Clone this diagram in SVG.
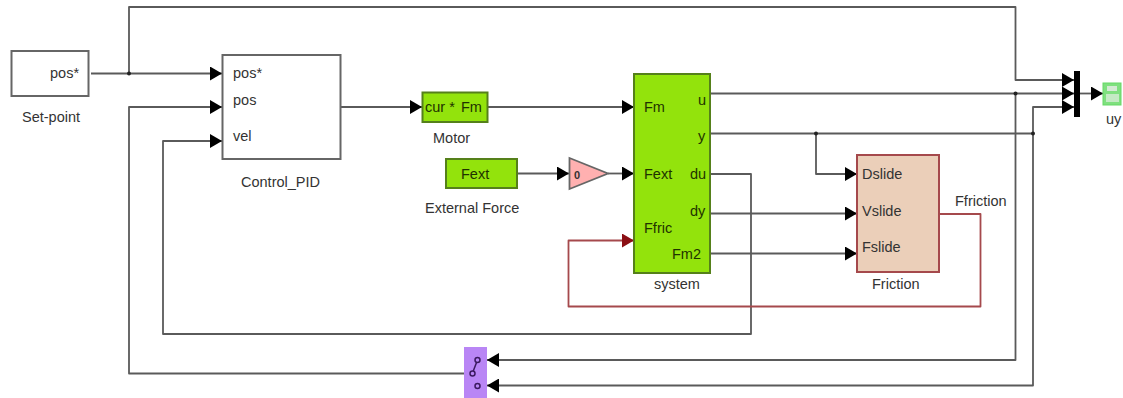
<svg xmlns="http://www.w3.org/2000/svg" width="1123" height="398" viewBox="0 0 1123 398">
<style>
text{font-family:"Liberation Sans",Arial,sans-serif;font-size:14.500px;fill:#333}
.g{fill:#1f3300}
.blk{stroke:#666;stroke-width:2}
.w{fill:#fff}
.c{fill:none;stroke:#5a5a5a;stroke-width:1.800;stroke-linejoin:round}
.r{fill:none;stroke:#a5494c;stroke-width:1.800;stroke-linejoin:round}
.lime{fill:#93e30c;stroke:#55801a;stroke-width:2}
.d{fill:#222}
</style>
<defs>
<marker id="arr" markerUnits="userSpaceOnUse" markerWidth="12" markerHeight="14" refX="12" refY="7" orient="auto"><path d="M0 0L12 7L0 14Z" fill="#000"/></marker>
<marker id="arrR" markerUnits="userSpaceOnUse" markerWidth="12" markerHeight="14" refX="12" refY="7" orient="auto"><path d="M0 0L12 7L0 14Z" fill="#8b0f14"/></marker>
</defs>
<rect width="1123" height="398" fill="#fff"/>
<g id="connectors">
<path class="c" marker-end="url(#arr)" d="M91 73.500H222"/>
<path class="c" marker-end="url(#arr)" d="M129 73.500V7H1015.500V80H1074"/>
<path class="c" marker-end="url(#arr)" d="M464 373.500H129V107H222"/>
<path class="c" marker-end="url(#arr)" d="M710 174H751V334H163V141H222"/>
<path class="c" marker-end="url(#arr)" d="M341 107H422"/>
<path class="c" marker-end="url(#arr)" d="M488 107H634"/>
<path class="c" marker-end="url(#arr)" d="M518 173.500H569"/>
<path class="c" marker-end="url(#arr)" d="M608 173.500H634"/>
<path class="c" marker-end="url(#arr)" d="M710 93.500H1074"/>
<path class="c" marker-end="url(#arr)" d="M1015.500 93.500V360H487"/>
<path class="c" d="M710 133.500H1033"/>
<path class="c" marker-end="url(#arr)" d="M816 133.500V174H857"/>
<path class="c" marker-end="url(#arr)" d="M1033 133.500V107H1074"/>
<path class="c" marker-end="url(#arr)" d="M1033 133.500V385.500H487"/>
<path class="c" marker-end="url(#arr)" d="M710 213.500H857"/>
<path class="c" marker-end="url(#arr)" d="M710 253.500H857"/>
<path class="c" marker-end="url(#arr)" d="M1080 93.500H1103"/>
<path class="r" marker-end="url(#arrR)" d="M939 214H980.500V306.500H568.500V240.500H634"/>
<circle class="d" cx="129" cy="73.500" r="2"/>
<circle class="d" cx="1015.500" cy="93.500" r="2"/>
<circle class="d" cx="816" cy="133.500" r="2"/>
<circle class="d" cx="1033" cy="133.500" r="2"/>
</g>
<g id="set-point">
<rect class="blk w" x="11.500" y="51" width="77" height="45"/>
<text x="50" y="78">pos*</text>
<text x="22" y="122">Set-point</text>
</g>
<g id="control-pid">
<rect class="blk w" x="222.500" y="55" width="118" height="104"/>
<text x="233" y="78">pos*</text>
<text x="233" y="105">pos</text>
<text x="233" y="141">vel</text>
<text x="241" y="187">Control_PID</text>
</g>
<g id="motor">
<rect class="lime" x="422.500" y="92.500" width="65" height="29.500"/>
<text class="g" x="425" y="112">cur *</text>
<text class="g" x="461" y="112">Fm</text>
<text x="433" y="143">Motor</text>
</g>
<g id="external-force">
<rect class="lime" x="446" y="159" width="71" height="29"/>
<text class="g" x="461" y="179">Fext</text>
<text x="425" y="213">External Force</text>
</g>
<g id="gain">
<path d="M569.500 158L608 173.500L569.500 189Z" fill="#ffb0b0" stroke="#666" stroke-width="1.800"/>
<text x="574" y="179" style="font-size:11px;font-weight:bold">0</text>
</g>
<g id="system">
<rect class="lime" x="634" y="74" width="76" height="199"/>
<text class="g" x="644" y="112">Fm</text>
<text class="g" x="644" y="179">Fext</text>
<text class="g" x="644" y="233">Ffric</text>
<text class="g" x="698" y="105">u</text>
<text class="g" x="698" y="141">y</text>
<text class="g" x="690" y="179">du</text>
<text class="g" x="690" y="216">dy</text>
<text class="g" x="672" y="259">Fm2</text>
<text x="654" y="289">system</text>
</g>
<g id="friction">
<rect x="857" y="155" width="82" height="117" fill="#ebcfb9" stroke="#a5494c" stroke-width="2"/>
<text x="862" y="179">Dslide</text>
<text x="862" y="216">Vslide</text>
<text x="862" y="252">Fslide</text>
<text x="872" y="289">Friction</text>
<text x="955" y="206">Ffriction</text>
</g>
<g id="mux">
<rect x="1074" y="71" width="6" height="46" fill="#000"/>
</g>
<g id="scope">
<rect x="1103" y="83" width="18" height="22" fill="#7fe07f" stroke="#66d966" stroke-width="1"/>
<rect x="1107" y="86" width="10" height="5" fill="#d4ead4"/>
<rect x="1106" y="94" width="13" height="8" fill="#c4eac4"/>
<text x="1106" y="124">uy</text>
</g>
<g id="switch">
<rect x="464" y="347" width="23" height="51" fill="#b986f5"/>
<path d="M472.500 373L477.500 360" fill="none" stroke="#3c1a60" stroke-width="1.500"/>
<circle cx="472.500" cy="373.500" r="2.500" fill="#b986f5" stroke="#3c1a60" stroke-width="1.500"/>
<circle cx="477.500" cy="360" r="2.500" fill="#b986f5" stroke="#3c1a60" stroke-width="1.500"/>
<circle cx="477.500" cy="386" r="2.500" fill="#b986f5" stroke="#3c1a60" stroke-width="1.500"/>
</g>
</svg>
